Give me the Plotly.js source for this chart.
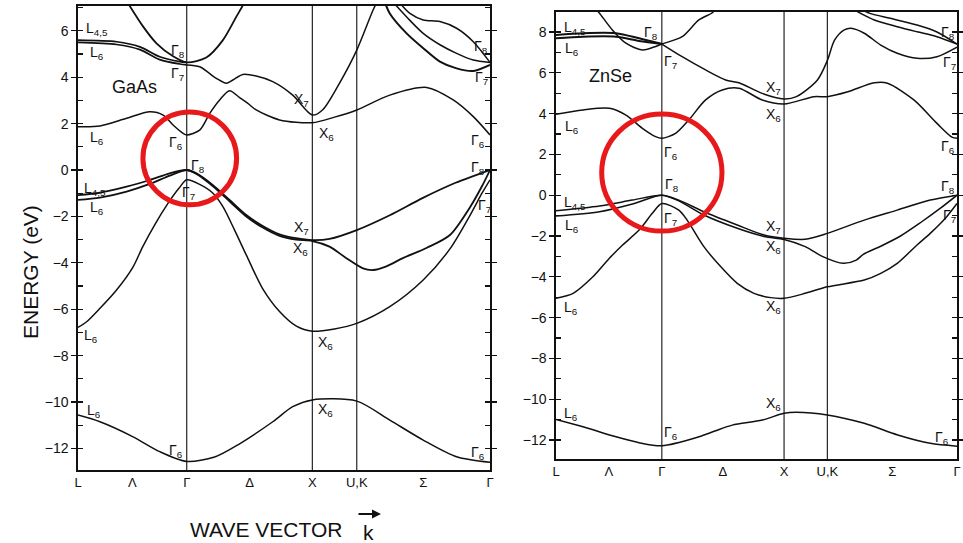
<!DOCTYPE html>
<html>
<head>
<meta charset="utf-8">
<script src="https://cdn.plot.ly/plotly-3.0.1.min.js"></script>
<style>
  html, body { margin: 0; padding: 0; background: #fff; }
  #chart { width: 963px; height: 543px; }
</style>
</head>
<body>
<div id="chart"></div>
<script>
// Path through the Brillouin zone: L – Γ – X – U,K – Γ  (distance in units of 2π/a)
const pathTicks    = [0, 0.433, 0.866, 1.366, 1.866, 2.220, 2.7505, 3.281];
const pathTickText = ['L', 'Λ', 'Γ', 'Δ', 'X', 'U,K', 'Σ', 'Γ'];
const symmetryK    = [0.866, 1.866, 2.220];

// ---------------- GaAs bands (energy in eV) ----------------
const gaasS_k  = [0, 0.175, 0.439, 0.651, 0.866, 1.088, 1.287, 1.551, 1.710, 1.866, 2.220, 2.483, 2.749, 3.015, 3.281];
const gaasS_E  = [-10.56, -10.85, -11.50, -12.14, -12.56, -12.37, -11.80, -10.85, -10.20, -9.91, -9.96, -10.78, -11.64, -12.36, -12.60];

const gaasSO_k = [0, 0.069, 0.175, 0.307, 0.439, 0.516, 0.612, 0.715, 0.802, 0.866, 0.969, 1.075, 1.154, 1.247, 1.340, 1.469, 1.605, 1.739, 1.866, 2.043, 2.220, 2.483, 2.749, 2.962, 3.122, 3.217, 3.281];
const gaasSO_E = [-6.78, -6.54, -5.96, -5.17, -4.17, -3.30, -2.35, -1.45, -0.80, -0.42, -0.62, -1.00, -1.58, -2.59, -3.66, -5.10, -6.10, -6.73, -6.95, -6.85, -6.61, -5.89, -4.74, -3.40, -1.95, -1.00, -0.42];

const gaasHH_k = [0, 0.175, 0.387, 0.572, 0.731, 0.866, 0.943, 1.075, 1.207, 1.340, 1.471, 1.605, 1.737, 1.866, 2.003, 2.220, 2.483, 2.747, 3.007, 3.281];
const gaasHH_E = [-1.08, -0.98, -0.72, -0.43, -0.14, 0, -0.14, -0.65, -1.29, -1.94, -2.41, -2.77, -2.94, -3.02, -2.97, -2.59, -1.95, -1.20, -0.55, 0];

const gaasLH_k = [0, 0.175, 0.387, 0.572, 0.731, 0.866, 0.943, 1.075, 1.207, 1.340, 1.471, 1.605, 1.737, 1.866, 2.003, 2.137, 2.270, 2.350, 2.456, 2.587, 2.779, 2.962, 3.122, 3.217, 3.281];
const gaasLH_E = [-1.29, -1.19, -0.93, -0.60, -0.24, 0, -0.17, -0.70, -1.35, -2.00, -2.48, -2.84, -3.00, -3.06, -3.30, -3.80, -4.24, -4.31, -4.15, -3.80, -3.35, -2.80, -1.60, -0.70, 0];

const gaasC1_k = [0, 0.175, 0.387, 0.572, 0.678, 0.757, 0.837, 0.866, 0.969, 1.049, 1.128, 1.207, 1.287, 1.353, 1.419, 1.605, 1.866, 2.043, 2.220, 2.483, 2.777, 2.988, 3.148, 3.281];
const gaasC1_E = [1.87, 1.90, 2.23, 2.51, 2.37, 1.94, 1.58, 1.51, 1.72, 2.44, 3.02, 3.42, 3.12, 2.87, 2.59, 2.16, 2.04, 2.28, 2.59, 3.23, 3.56, 3.02, 2.30, 1.51];

const gaasC2_k = [0.866, 0.969, 1.102, 1.181, 1.233, 1.313, 1.419, 1.551, 1.710, 1.866, 1.949, 2.083, 2.220, 2.350, 2.387];
const gaasC2_E = [4.53, 4.45, 3.95, 3.74, 3.88, 4.12, 4.05, 3.81, 3.23, 2.37, 2.60, 3.75, 5.17, 6.90, 7.30];

const gaasL45_k = [0, 0.307, 0.493, 0.651, 0.810, 0.866];
const gaasL45_E = [5.60, 5.53, 5.31, 4.88, 4.67, 4.64];
const gaasL6c_k = [0, 0.307, 0.493, 0.651, 0.810, 0.866];
const gaasL6c_E = [5.50, 5.41, 5.19, 4.76, 4.57, 4.53];

const gaasP_k  = [0.397, 0.519, 0.625, 0.757, 0.866, 1.022, 1.154, 1.260, 1.313, 1.342];
const gaasP_E  = [7.20, 6.18, 5.46, 4.90, 4.64, 4.85, 5.60, 6.60, 7.10, 7.40];

const gaasU1_k = [2.443, 2.483, 2.617, 2.749, 2.882, 3.015, 3.148, 3.281];
const gaasU1_E = [7.24, 6.75, 5.89, 5.25, 4.67, 4.38, 4.27, 4.53];
const gaasU2_k = [2.515, 2.643, 2.749, 2.882, 3.015, 3.148, 3.281];
const gaasU2_E = [7.20, 6.45, 5.89, 5.40, 5.03, 4.74, 4.64];
const gaasU3_k = [2.563, 2.643, 2.749, 2.882, 3.015, 3.148, 3.281];
const gaasU3_E = [7.20, 6.75, 6.47, 6.40, 6.11, 5.53, 4.64];

// ---------------- ZnSe bands (energy in eV) ----------------
const znseS_k  = [0, 0.221, 0.491, 0.680, 0.866, 1.169, 1.300, 1.442, 1.688, 1.866, 1.967, 2.220, 2.522, 2.796, 3.062, 3.281];
const znseS_E  = [-10.99, -11.35, -11.84, -12.13, -12.28, -11.84, -11.56, -11.27, -11.02, -10.69, -10.64, -10.77, -11.18, -11.75, -12.16, -12.30];

const znseSO_k = [0, 0.140, 0.302, 0.437, 0.545, 0.680, 0.788, 0.866, 1.005, 1.073, 1.210, 1.347, 1.483, 1.620, 1.757, 1.866, 2.039, 2.220, 2.522, 2.657, 2.792, 2.954, 3.062, 3.197, 3.281];
const znseSO_E = [-5.05, -4.81, -4.00, -3.09, -2.44, -1.71, -0.89, -0.41, -0.73, -1.22, -2.52, -3.50, -4.32, -4.81, -5.02, -5.05, -4.81, -4.49, -4.16, -3.83, -3.34, -2.44, -1.87, -1.05, -0.41];

const znseHH_k = [0, 0.356, 0.626, 0.866, 1.005, 1.210, 1.483, 1.702, 1.866, 2.039, 2.220, 2.522, 2.792, 3.062, 3.281];
const znseHH_E = [-0.76, -0.53, -0.24, 0, -0.24, -0.81, -1.46, -1.95, -2.11, -2.16, -1.87, -1.22, -0.73, -0.24, 0];

const znseLH_k = [0, 0.356, 0.626, 0.866, 1.005, 1.210, 1.483, 1.702, 1.866, 2.039, 2.183, 2.349, 2.457, 2.514, 2.657, 2.819, 2.981, 3.143, 3.281];
const znseLH_E = [-1.02, -0.81, -0.43, 0, -0.28, -0.97, -1.62, -2.02, -2.17, -2.52, -3.01, -3.34, -3.18, -2.90, -2.50, -2.00, -1.35, -0.65, 0];

const znseC1_k = [0, 0.221, 0.437, 0.572, 0.707, 0.815, 0.866, 0.978, 1.087, 1.224, 1.360, 1.497, 1.687, 1.866, 2.110, 2.220, 2.388, 2.604, 2.712, 2.928, 3.117, 3.239, 3.281];
const znseC1_E = [3.97, 4.18, 4.26, 3.93, 3.28, 2.87, 2.79, 3.03, 3.69, 4.67, 5.16, 5.24, 4.67, 4.47, 4.83, 4.83, 5.07, 5.51, 5.49, 4.67, 3.52, 2.85, 2.79];

const znseC2_k = [0.866, 1.032, 1.224, 1.388, 1.497, 1.687, 1.866, 1.967, 2.139, 2.220, 2.279, 2.359, 2.414, 2.522, 2.657, 2.792, 2.955, 3.117, 3.281];
const znseC2_E = [7.41, 6.79, 6.14, 5.65, 5.51, 4.99, 4.72, 4.83, 5.65, 6.60, 7.60, 8.10, 8.18, 7.94, 7.36, 6.96, 6.71, 6.79, 7.26];

const znseU_k  = [0.330, 0.356, 0.461, 0.572, 0.707, 0.801, 0.866, 1.032, 1.169, 1.276, 1.300];
const znseU_E  = [9.10, 8.92, 8.10, 7.45, 7.12, 7.26, 7.41, 7.77, 8.59, 8.93, 9.08];

const znseL45_k = [0, 0.221, 0.491, 0.680, 0.866];
const znseL45_E = [7.85, 7.94, 7.94, 7.69, 7.41];
const znseL6c_k = [0, 0.221, 0.491, 0.680, 0.866];
const znseL6c_E = [7.69, 7.77, 7.77, 7.56, 7.41];

const znseR1_k = [2.450, 2.604, 2.792, 2.954, 3.117, 3.281];
const znseR1_E = [9.05, 8.59, 8.26, 8.01, 7.77, 7.41];
const znseR2_k = [2.500, 2.574, 2.735, 2.954, 3.117, 3.281];
const znseR2_E = [9.10, 8.90, 8.67, 8.34, 8.00, 7.41];

// Level labels: [k, E, text, anchor]
const gaasLabels = [
  [0.048, 6.08, 'L<sub>4,5</sub>', 'left'], [0.079, 5.04, 'L<sub>6</sub>', 'left'],
  [0.795, 5.13, 'Γ<sub>8</sub>', 'center'], [0.795, 4.14, 'Γ<sub>7</sub>', 'center'],
  [0.079, 1.38, 'L<sub>6</sub>', 'left'], [0.779, 1.16, 'Γ<sub>6</sub>', 'center'],
  [0.953, 0.17, 'Γ<sub>8</sub>', 'center'], [0.032, -0.82, 'L<sub>4,5</sub>', 'left'],
  [0.079, -1.64, 'L<sub>6</sub>', 'left'], [0.882, -0.99, 'Γ<sub>7</sub>', 'center'],
  [1.779, 3.02, 'X<sub>7</sub>', 'center'], [1.979, 1.55, 'X<sub>6</sub>', 'center'],
  [3.209, 5.30, 'Γ<sub>8</sub>', 'center'], [3.217, 3.97, 'Γ<sub>7</sub>', 'center'],
  [3.185, 1.25, 'Γ<sub>6</sub>', 'center'], [3.185, 0.09, 'Γ<sub>8</sub>', 'center'],
  [3.235, -1.55, 'Γ<sub>7</sub>', 'center'], [1.779, -2.50, 'X<sub>7</sub>', 'center'],
  [1.771, -3.40, 'X<sub>6</sub>', 'center'], [1.971, -7.46, 'X<sub>6</sub>', 'center'],
  [0.032, -7.16, 'L<sub>6</sub>', 'left'], [0.056, -10.40, 'L<sub>6</sub>', 'left'],
  [1.971, -10.34, 'X<sub>6</sub>', 'center'], [0.779, -12.10, 'Γ<sub>6</sub>', 'center'],
  [3.185, -12.20, 'Γ<sub>6</sub>', 'center']
];
const znseLabels = [
  [0.049, 8.20, 'L<sub>4,5</sub>', 'left'], [0.057, 7.17, 'L<sub>6</sub>', 'left'],
  [0.777, 7.95, 'Γ<sub>8</sub>', 'center'], [0.940, 6.53, 'Γ<sub>7</sub>', 'center'],
  [0.057, 3.34, 'L<sub>6</sub>', 'left'], [0.940, 2.07, 'Γ<sub>6</sub>', 'center'],
  [0.950, 0.50, 'Γ<sub>8</sub>', 'center'], [0.049, -0.38, 'L<sub>4,5</sub>', 'left'],
  [0.057, -1.50, 'L<sub>6</sub>', 'left'], [0.940, -1.17, 'Γ<sub>7</sub>', 'center'],
  [1.776, 5.25, 'X<sub>7</sub>', 'center'], [1.776, 3.93, 'X<sub>6</sub>', 'center'],
  [3.208, 7.95, 'Γ<sub>8</sub>', 'center'], [3.216, 6.48, 'Γ<sub>7</sub>', 'center'],
  [3.208, 2.36, 'Γ<sub>6</sub>', 'center'], [3.208, 0.40, 'Γ<sub>8</sub>', 'center'],
  [3.216, -1.02, 'Γ<sub>7</sub>', 'center'], [1.776, -1.56, 'X<sub>7</sub>', 'center'],
  [1.776, -2.54, 'X<sub>6</sub>', 'center'], [1.776, -5.48, 'X<sub>6</sub>', 'center'],
  [0.049, -5.53, 'L<sub>6</sub>', 'left'], [1.776, -10.24, 'X<sub>6</sub>', 'center'],
  [0.049, -10.73, 'L<sub>6</sub>', 'left'], [0.940, -11.66, 'Γ<sub>6</sub>', 'center'],
  [3.160, -11.90, 'Γ<sub>6</sub>', 'center']
];

const FONT = 'Liberation Sans, Arial, sans-serif';
const INK = '#111';

function band(k, e, xa, ya, w) {
  return {
    x: k, y: e, xaxis: xa, yaxis: ya, type: 'scatter', mode: 'lines',
    line: { color: INK, width: w || 1.5, shape: 'spline', smoothing: 0.8 },
    hoverinfo: 'skip', showlegend: false
  };
}

const traces = [
  band(gaasS_k, gaasS_E, 'x', 'y'),
  band(gaasSO_k, gaasSO_E, 'x', 'y'),
  band(gaasHH_k, gaasHH_E, 'x', 'y', 1.8),
  band(gaasLH_k, gaasLH_E, 'x', 'y', 1.8),
  band(gaasC1_k, gaasC1_E, 'x', 'y'),
  band(gaasC2_k, gaasC2_E, 'x', 'y'),
  band(gaasL45_k, gaasL45_E, 'x', 'y', 1.7),
  band(gaasL6c_k, gaasL6c_E, 'x', 'y', 1.7),
  band(gaasP_k, gaasP_E, 'x', 'y', 1.8),
  band(gaasU1_k, gaasU1_E, 'x', 'y', 2.0),
  band(gaasU2_k, gaasU2_E, 'x', 'y'),
  band(gaasU3_k, gaasU3_E, 'x', 'y'),

  band(znseS_k, znseS_E, 'x2', 'y2'),
  band(znseSO_k, znseSO_E, 'x2', 'y2'),
  band(znseHH_k, znseHH_E, 'x2', 'y2'),
  band(znseLH_k, znseLH_E, 'x2', 'y2'),
  band(znseC1_k, znseC1_E, 'x2', 'y2'),
  band(znseC2_k, znseC2_E, 'x2', 'y2'),
  band(znseU_k, znseU_E, 'x2', 'y2'),
  band(znseL45_k, znseL45_E, 'x2', 'y2', 2.0),
  band(znseL6c_k, znseL6c_E, 'x2', 'y2', 2.0),
  band(znseR1_k, znseR1_E, 'x2', 'y2'),
  band(znseR2_k, znseR2_E, 'x2', 'y2')
];

function xAxis(domain, anchor) {
  return {
    domain: domain, anchor: anchor, range: [0, 3.281],
    tickmode: 'array', tickvals: pathTicks, ticktext: pathTickText,
    ticks: '', showline: true, mirror: true, linecolor: INK, linewidth: 1.6,
    showgrid: false, zeroline: false, tickfont: { family: FONT, size: 13, color: INK }
  };
}
function yAxis(domain, anchor, range) {
  return {
    domain: domain, anchor: anchor, range: range, tick0: 0, dtick: 2,
    ticks: 'outside', ticklen: 5, tickwidth: 1.3, tickcolor: INK,
    minor: { dtick: 1, ticks: 'inside', ticklen: 5, tickwidth: 1.1, tickcolor: INK },
    showline: true, mirror: 'ticks', linecolor: INK, linewidth: 1.6,
    showgrid: false, zeroline: false, tickfont: { family: FONT, size: 14, color: INK }
  };
}

const shapes = [];
symmetryK.forEach(k => {
  shapes.push({ type: 'line', xref: 'x', yref: 'y domain', x0: k, x1: k, y0: 0, y1: 1, line: { color: INK, width: 1.1 } });
  shapes.push({ type: 'line', xref: 'x2', yref: 'y2 domain', x0: k, x1: k, y0: 0, y1: 1, line: { color: INK, width: 1.1 } });
});
// highlight rings around the direct gap at Γ
shapes.push({ type: 'circle', xref: 'x', yref: 'y', x0: 0.517, x1: 1.263, y0: -1.5, y1: 2.5, line: { color: '#e8191a', width: 5 } });
shapes.push({ type: 'circle', xref: 'x2', yref: 'y2', x0: 0.374, x1: 1.358, y0: -1.76, y1: 3.98, line: { color: '#e8191a', width: 5 } });

const annotations = [];
function addLabels(list, xr, yr) {
  list.forEach(([k, e, t, a]) => annotations.push({
    x: k, y: e, xref: xr, yref: yr, text: t, showarrow: false, xanchor: a, yanchor: 'middle',
    font: { family: FONT, size: 14, color: INK }
  }));
}
addLabels(gaasLabels, 'x', 'y');
addLabels(znseLabels, 'x2', 'y2');

annotations.push({ x: 0.453, y: 3.58, xref: 'x', yref: 'y', text: 'GaAs', showarrow: false,
  xanchor: 'center', yanchor: 'middle', font: { family: FONT, size: 18, color: INK } });
annotations.push({ x: 0.445, y: 5.84, xref: 'x2', yref: 'y2', text: 'ZnSe', showarrow: false,
  xanchor: 'center', yanchor: 'middle', font: { family: FONT, size: 18, color: INK } });

// axis titles
annotations.push({ x: 30 / 963, y: 1 - 272 / 543, xref: 'paper', yref: 'paper', text: 'ENERGY (eV)', textangle: -90,
  xanchor: 'center', yanchor: 'middle', showarrow: false, font: { family: FONT, size: 21, color: INK } });
annotations.push({ x: 266 / 963, y: 1 - 529 / 543, xref: 'paper', yref: 'paper', text: 'WAVE VECTOR', showarrow: false,
  xanchor: 'center', yanchor: 'middle', font: { family: FONT, size: 21, color: INK } });
annotations.push({ x: 368 / 963, y: 1 - 532 / 543, xref: 'paper', yref: 'paper', text: 'k', showarrow: false,
  xanchor: 'center', yanchor: 'middle', font: { family: FONT, size: 21, color: INK } });
annotations.push({ x: 381 / 963, y: 1 - 514 / 543, xref: 'paper', yref: 'paper', text: '', showarrow: true,
  ax: -24, ay: 0, arrowhead: 2, arrowsize: 0.9, arrowwidth: 2, arrowcolor: INK });

const layout = {
  width: 963, height: 543, margin: { l: 0, r: 0, t: 0, b: 0 },
  paper_bgcolor: '#fff', plot_bgcolor: '#fff', showlegend: false,
  font: { family: FONT, color: INK },
  xaxis: xAxis([78 / 963, 490 / 963], 'y'),
  yaxis: yAxis([73 / 543, 537 / 543], 'x', [-12.93, 7.07]),
  xaxis2: xAxis([556 / 963, 957 / 963], 'y2'),
  yaxis2: yAxis([84 / 543, 531 / 543], 'x2', [-12.93, 8.98]),
  shapes: shapes,
  annotations: annotations
};

Plotly.newPlot('chart', traces, layout, { staticPlot: true, displayModeBar: false });
</script>
</body>
</html>
